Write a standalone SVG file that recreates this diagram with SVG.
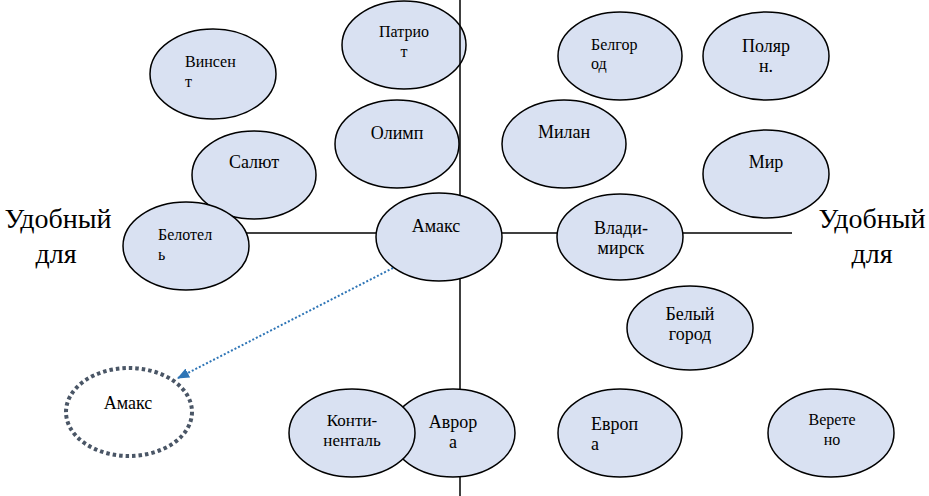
<svg xmlns="http://www.w3.org/2000/svg" width="929" height="496" viewBox="0 0 929 496">
<defs>
<style>
.n{fill:#d9e1f2;stroke:#000;stroke-width:1.5}
.t{font-family:"Liberation Serif","DejaVu Serif",serif;font-size:18px;fill:#000}
.s{font-size:16px}
.m{font-size:17px}
.c{text-anchor:middle}
.big{font-family:"Liberation Serif","DejaVu Serif",serif;font-size:28px;fill:#000;text-anchor:middle}
.ax{stroke:#000;stroke-width:1.5;fill:none}
</style>
<marker id="ah" viewBox="0 0 12 10" refX="11" refY="5" markerWidth="12" markerHeight="10" markerUnits="userSpaceOnUse" orient="auto">
<path d="M0,0 L12,5 L0,10 Z" fill="#2e75b6"/>
</marker>
</defs>
<rect width="929" height="496" fill="#fff"/>
<text class="big" x="58" y="228">Удобный</text>
<text class="big" x="56" y="263">для</text>
<text class="big" x="872" y="228">Удобный</text>
<text class="big" x="872" y="263">для</text>
<g id="n-patriot"><ellipse class="n" cx="404" cy="45" rx="62" ry="44"/><text class="t s c" x="404" y="37">Патрио</text><text class="t s c" x="404" y="57">т</text></g>
<g id="n-olimp"><ellipse class="n" cx="397" cy="144" rx="62" ry="44"/><text class="t c" x="397" y="139">Олимп</text></g>
<g id="connectors">
<line class="ax" x1="460" y1="0" x2="460" y2="496"/>
<line class="ax" x1="240" y1="233" x2="792" y2="233"/>
<line x1="393" y1="268" x2="178" y2="378" stroke="#2e75b6" stroke-width="2" stroke-dasharray="2 2" marker-end="url(#ah)"/>
</g>
<g id="n-vinsent"><ellipse class="n" cx="213" cy="74" rx="63" ry="45"/><text class="t s" x="185" y="67">Винсен</text><text class="t s" x="185" y="87">т</text></g>
<g id="n-salut"><ellipse class="n" cx="254" cy="175" rx="62" ry="44"/><text class="t c" x="254" y="168">Салют</text></g>
<g id="n-belotel"><ellipse class="n" cx="186" cy="246" rx="63" ry="44"/><text class="t s" x="158" y="240">Белотел</text><text class="t s" x="158" y="260">ь</text></g>
<g id="n-belgorod"><ellipse class="n" cx="620" cy="56" rx="62" ry="44"/><text class="t s" x="591" y="50">Белгор</text><text class="t s" x="591" y="69">од</text></g>
<g id="n-polyarn"><ellipse class="n" cx="766" cy="56" rx="63" ry="44"/><text class="t c" x="766" y="52">Поляр</text><text class="t c" x="766" y="72">н.</text></g>
<g id="n-milan"><ellipse class="n" cx="564" cy="144" rx="62" ry="44"/><text class="t c" x="564" y="138">Милан</text></g>
<g id="n-mir"><ellipse class="n" cx="766" cy="174" rx="63" ry="44"/><text class="t c" x="766" y="168">Мир</text></g>
<g id="n-amaks"><ellipse class="n" cx="439" cy="237" rx="63" ry="44"/><text class="t c" x="436" y="232">Амакс</text></g>
<g id="n-vladimirsk"><ellipse class="n" cx="620" cy="237" rx="63" ry="43"/><text class="t c" x="621" y="234">Влади-</text><text class="t c" x="621" y="254">мирск</text></g>
<g id="n-belyi"><ellipse class="n" cx="690" cy="328" rx="63" ry="42"/><text class="t c" x="690" y="320">Белый</text><text class="t c" x="690" y="340">город</text></g>
<g id="n-amaks2"><ellipse cx="129" cy="412" rx="63" ry="44" fill="none" stroke="#4a5666" stroke-width="4" stroke-dasharray="3.5 3"/><text class="t c" x="128" y="409">Амакс</text></g>
<g id="n-avrora"><ellipse class="n" cx="453" cy="433" rx="62" ry="44"/><text class="t c" x="453" y="428">Аврор</text><text class="t c" x="453" y="448">а</text></g>
<g id="n-kontinental"><ellipse class="n" cx="352" cy="433" rx="63" ry="44"/><text class="t m c" x="352" y="426">Конти-</text><text class="t m c" x="352" y="446">ненталь</text></g>
<g id="n-evropa"><ellipse class="n" cx="620" cy="433" rx="62" ry="44"/><text class="t" x="591" y="430">Европ</text><text class="t" x="591" y="450">а</text></g>
<g id="n-vereteno"><ellipse class="n" cx="831" cy="433" rx="63" ry="44"/><text class="t s c" x="832" y="425">Верете</text><text class="t s c" x="832" y="445">но</text></g>
</svg>
